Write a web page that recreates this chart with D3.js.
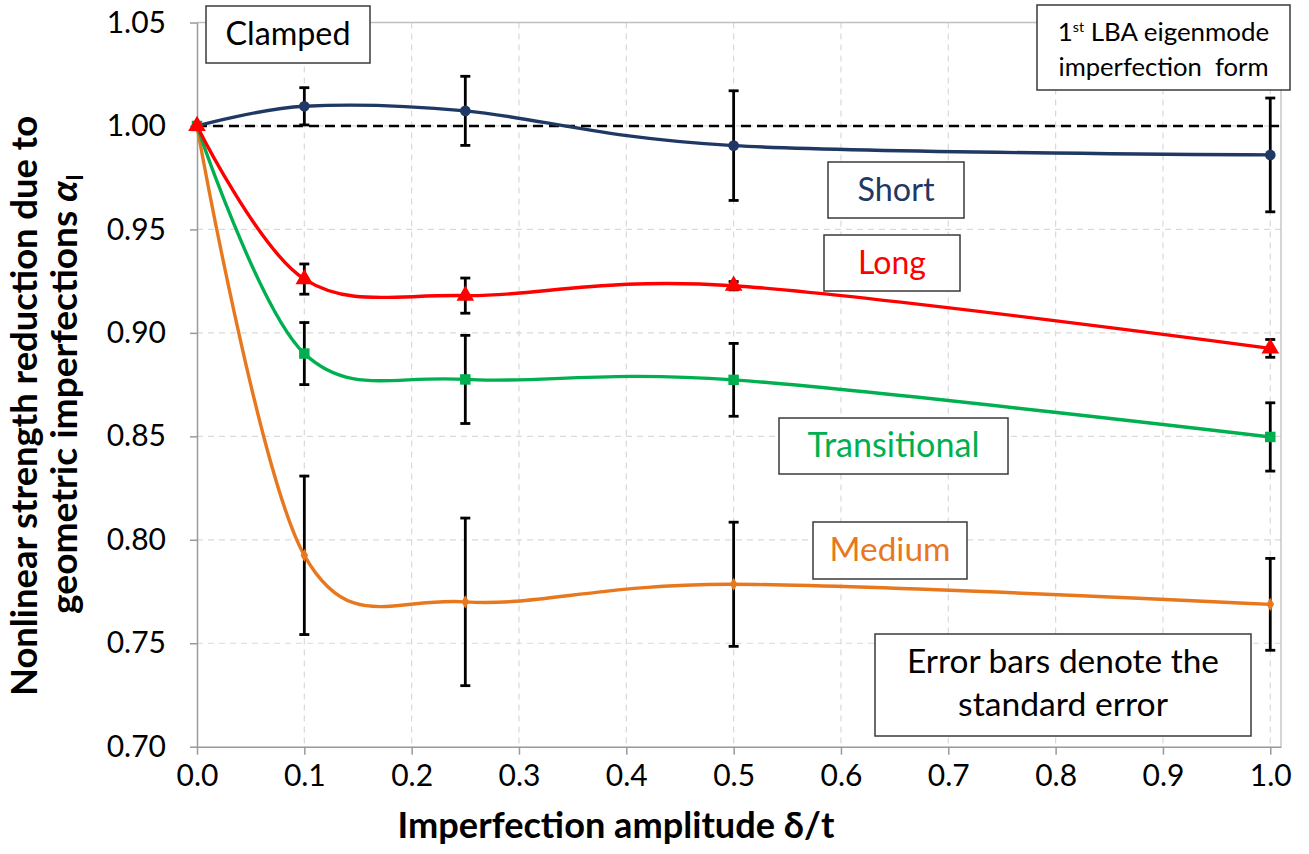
<!DOCTYPE html>
<html><head><meta charset="utf-8">
<script src="https://cdn.jsdelivr.net/npm/d3@7"></script>
<style>
body{margin:0;background:#fff}
svg{display:block}
text{font-family:Lato,"Open Sans",sans-serif}
</style>
</head><body>
<svg id="chart" width="1309" height="854"></svg>
<script>
// ---- data ----
const xValues = [0, 0.1, 0.25, 0.5, 1.0];
const xTicks = [0, 0.1, 0.2, 0.3, 0.4, 0.5, 0.6, 0.7, 0.8, 0.9, 1.0];
const yTicks = [0.70, 0.75, 0.80, 0.85, 0.90, 0.95, 1.00, 1.05];
const referenceValue = 1.0;

const shortVals  = [1.000, 1.0095, 1.0073, 0.9905, 0.9860];
const shortErr   = [0, 0.0090, 0.0167, 0.0265, 0.0275];
const mediumVals = [1.000, 0.7925, 0.7700, 0.7785, 0.7688];
const mediumErr  = [0, 0.0383, 0.0405, 0.0300, 0.0222];
const transVals  = [1.000, 0.8900, 0.8775, 0.8773, 0.8497];
const transErr   = [0, 0.0150, 0.0213, 0.0176, 0.0165];
const longVals   = [1.000, 0.9260, 0.9180, 0.9228, 0.8925];
const longErr    = [0, 0.0073, 0.0085, 0.0020, 0.0043];

const seriesNames = ["Short", "Medium", "Transitional", "Long"];
const xTitle = "Imperfection amplitude δ/t";
const yTitle1 = "Nonlinear strength reduction due to";
const yTitle2 = "geometric imperfections ";

// ---- setup ----
const svg = d3.select("#chart");
const W = 1309, H = 854;
const pLeft = 197, pRight = 1281, pTop = 22.5, pBottom = 746.7;
const x = d3.scaleLinear().domain([0, 1.01]).range([pLeft, pRight]);
const y = d3.scaleLinear().domain([0.70, 1.05]).range([pBottom, pTop]);

svg.append("rect").attr("width", W).attr("height", H).attr("fill", "#fff");

function fit(sel, target) {
  const w = sel.node().getComputedTextLength();
  const fs = parseFloat(sel.attr("font-size"));
  if (w > 0) sel.attr("font-size", (fs * target / w).toFixed(2));
}

// gridlines
const grid = svg.append("g");
grid.selectAll("line.h").data(yTicks.filter(v => v > 0.701 && v < 1.049)).join("line")
  .attr("x1", pLeft).attr("x2", pRight).attr("y1", d => y(d)).attr("y2", d => y(d))
  .attr("stroke", "#D9D9D9").attr("stroke-width", 1.2).attr("stroke-dasharray", "6,5");
grid.selectAll("line.v").data(xTicks.filter(v => v > 0)).join("line")
  .attr("x1", d => x(d)).attr("x2", d => x(d)).attr("y1", pTop).attr("y2", pBottom)
  .attr("stroke", "#D9D9D9").attr("stroke-width", 1.2).attr("stroke-dasharray", "6,5");

// plot borders (top & right)
svg.append("line").attr("x1", pLeft).attr("x2", pRight).attr("y1", pTop).attr("y2", pTop)
  .attr("stroke", "#BFBFBF").attr("stroke-width", 1.3);
svg.append("line").attr("x1", pRight).attr("x2", pRight).attr("y1", pTop).attr("y2", pBottom)
  .attr("stroke", "#BFBFBF").attr("stroke-width", 1.3);

// axes
const axisColor = "#9A9A9A";
const gy = svg.append("g").attr("transform", `translate(${pLeft},0)`)
  .call(d3.axisLeft(y).tickValues(yTicks).tickFormat(d3.format(".2f")).tickSize(7).tickSizeOuter(0).tickPadding(24));
const gx = svg.append("g").attr("transform", `translate(0,${pBottom})`)
  .call(d3.axisBottom(x).tickValues(xTicks).tickFormat(d3.format(".1f")).tickSize(8).tickSizeOuter(0).tickPadding(10));
[gy, gx].forEach(g => {
  g.select(".domain").attr("stroke", axisColor).attr("stroke-width", 1.5);
  g.selectAll(".tick line").attr("stroke", axisColor).attr("stroke-width", 1.5);
  g.selectAll(".tick text").attr("fill", "#000").attr("font-size", 30)
    .attr("font-family", "Lato, 'Open Sans', sans-serif");
});

// reference dashed line
svg.append("line").attr("x1", pLeft).attr("x2", pRight)
  .attr("y1", y(referenceValue)).attr("y2", y(referenceValue))
  .attr("stroke", "#000").attr("stroke-width", 2.6).attr("stroke-dasharray", "10,6");

// series
const series = [
  { name: seriesNames[0], vals: shortVals,  err: shortErr,  color: "#1F3864", sym: d3.symbolCircle,   size: 90 },
  { name: seriesNames[1], vals: mediumVals, err: mediumErr, color: "#E8781E", sym: d3.symbolDiamond,  size: 50 },
  { name: seriesNames[2], vals: transVals,  err: transErr,  color: "#00B050", sym: d3.symbolSquare,   size: 110 },
  { name: seriesNames[3], vals: longVals,   err: longErr,   color: "#FF0000", sym: d3.symbolTriangle, size: 135 }
];

const line = d3.line().x(d => x(d[0])).y(d => y(d[1])).curve(d3.curveCardinal.tension(0));
const cap = 5;
series.forEach(s => {
  const pts = xValues.map((xv, i) => [xv, s.vals[i], s.err[i]]);
  const g = svg.append("g");
  g.append("path").attr("d", line(pts)).attr("fill", "none")
    .attr("stroke", s.color).attr("stroke-width", 3.4).attr("stroke-linejoin", "round");
  const eb = g.selectAll("g.eb").data(pts.filter(p => p[2] > 0)).join("g");
  eb.append("line").attr("x1", d => x(d[0])).attr("x2", d => x(d[0]))
    .attr("y1", d => y(d[1] + d[2])).attr("y2", d => y(d[1] - d[2]))
    .attr("stroke", "#000").attr("stroke-width", 2.8);
  eb.append("line").attr("x1", d => x(d[0]) - cap).attr("x2", d => x(d[0]) + cap)
    .attr("y1", d => y(d[1] + d[2])).attr("y2", d => y(d[1] + d[2]))
    .attr("stroke", "#000").attr("stroke-width", 2.8);
  eb.append("line").attr("x1", d => x(d[0]) - cap).attr("x2", d => x(d[0]) + cap)
    .attr("y1", d => y(d[1] - d[2])).attr("y2", d => y(d[1] - d[2]))
    .attr("stroke", "#000").attr("stroke-width", 2.8);
  g.selectAll("path.m").data(pts).join("path")
    .attr("transform", d => `translate(${x(d[0])},${y(d[1])})`)
    .attr("d", d3.symbol().type(s.sym).size(s.size)).attr("fill", s.color);
});

// text boxes
function box(x0, y0, w, h, lines, color, fs) {
  svg.append("rect").attr("x", x0).attr("y", y0).attr("width", w).attr("height", h)
    .attr("fill", "#fff").attr("stroke", "#3A3A3A").attr("stroke-width", 1.5);
  lines.forEach(l => {
    const t = svg.append("text").attr("x", x0 + w / 2).attr("y", l.y).attr("text-anchor", "middle")
      .attr("fill", color).attr("font-size", fs);
    if (l.sup) {
      t.append("tspan").text("1");
      t.append("tspan").attr("font-size", fs * 0.62).attr("dy", -fs * 0.38).text("st");
      t.append("tspan").attr("dy", fs * 0.38).text(" LBA eigenmode");
    } else t.text(l.t);
    if (l.w) fit(t, l.w);
  });
}
box(206, 6, 164, 57, [{ t: "Clamped", y: 45, w: 125 }], "#000", 30);
box(1037, 5, 253, 85, [{ sup: true, y: 41, w: 213 }, { t: "imperfection\u00A0\u00A0form", y: 76, w: 210 }], "#000", 23);
box(828, 162, 136, 56, [{ t: seriesNames[0], y: 201, w: 77 }], "#1F3864", 30);
box(824, 235, 136, 56, [{ t: seriesNames[3], y: 274, w: 68 }], "#FF0000", 30);
box(779, 418, 229, 56, [{ t: seriesNames[2], y: 457, w: 172 }], "#00B050", 30);
box(813, 522, 154, 57, [{ t: seriesNames[1], y: 561, w: 121 }], "#E8781E", 30);
box(875, 634, 376, 102, [{ t: "Error bars denote the", y: 673, w: 312 }, { t: "standard error", y: 716, w: 210 }], "#000", 30);

// axis titles
const xt = svg.append("text").attr("x", 616).attr("y", 838).attr("text-anchor", "middle")
  .attr("font-weight", 700).attr("font-size", 30).attr("fill", "#000").text(xTitle);
fit(xt, 437);

const yt1 = svg.append("text").attr("transform", "translate(37,406) rotate(-90)")
  .attr("text-anchor", "middle").attr("font-weight", 700).attr("font-size", 30).attr("fill", "#000").text(yTitle1);
fit(yt1, 580);
const yt2 = svg.append("text").attr("transform", "translate(77,394) rotate(-90)")
  .attr("text-anchor", "middle").attr("font-weight", 700).attr("font-size", 30).attr("fill", "#000");
yt2.append("tspan").text(yTitle2);
yt2.append("tspan").attr("font-style", "italic").text("α");
yt2.append("tspan").attr("font-size", "0.6em").attr("dy", "0.25em").text("I");
fit(yt2, 440);
</script>
</body></html>
